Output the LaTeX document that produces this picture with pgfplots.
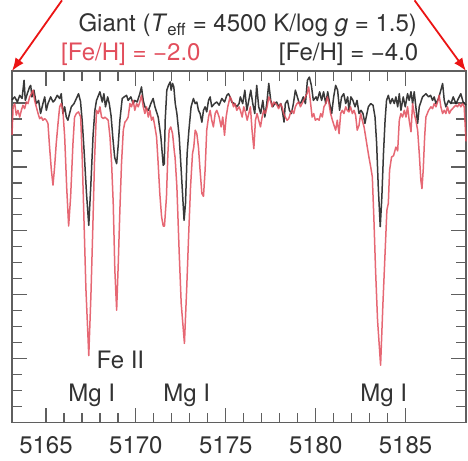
\documentclass[border=0pt]{standalone}
\usepackage{pgfplots}
\pgfplotsset{compat=1.18}
\usetikzlibrary{arrows.meta}
\usepackage{fontspec}
\setmainfont{TeX Gyre Heros}

\definecolor{redline}{RGB}{226,78,92}
\definecolor{blackline}{RGB}{35,35,35}
\definecolor{txt}{RGB}{50,50,50}
\definecolor{axgray}{RGB}{95,95,95}
\definecolor{arrowred}{RGB}{235,20,20}
\newcommand{\lbl}{\fontsize{24}{28}\selectfont}

\begin{document}
\begin{tikzpicture}
\begin{axis}[
  at={(0pt,0pt)}, anchor=south west,
  scale only axis, width=454pt, height=351.7pt,
  xmin=5163.11, xmax=5188.36, ymin=0, ymax=1.1,
  xtick={5165,5170,5175,5180,5185}, minor x tick num=4,
  ytick={0,0.2,0.4,0.6,0.8,1.0}, minor y tick num=3, yticklabels={},
  tick align=inside, xtick pos=both, ytick pos=both,
  major tick length=15pt, minor tick length=10pt,
  axis line style={axgray, line width=1.2pt},
  every tick/.style={axgray, line width=1.2pt},
  tick label style={font=\lbl, color=txt},
  xticklabel style={anchor=base, yshift=-30.6pt},
  /pgf/number format/assume math mode=true,
  /pgf/number format/set thousands separator={},
  clip=false,
]

% [Fe/H] = -4.0 (black)
\addplot[blackline, line width=1.5pt, line join=round, opacity=0.9] coordinates {
(5163.11,1.010) (5163.26,1.019) (5163.41,1.003) (5163.54,1.024) (5163.67,1.014)
(5163.78,1.071) (5163.85,1.008) (5163.96,1.029) (5164.09,1.050) (5164.15,1.055)
(5164.22,1.019) (5164.33,1.040) (5164.46,0.998) (5164.59,1.008) (5164.70,0.967)
(5164.83,0.998) (5164.93,1.019) (5165.02,0.977) (5165.11,0.998) (5165.26,1.019)
(5165.39,1.003) (5165.48,1.008) (5165.63,1.024) (5165.76,1.014) (5165.85,1.029)
(5165.94,0.967) (5166.04,0.988) (5166.13,0.956) (5166.22,0.946) (5166.31,0.967)
(5166.41,0.988) (5166.56,0.998) (5166.69,1.014) (5166.81,1.029) (5166.92,1.005)
(5167.02,0.940) (5167.12,0.850) (5167.25,0.720) (5167.38,0.617) (5167.50,0.750)
(5167.62,0.900) (5167.72,0.977) (5167.81,1.008) (5168.00,1.035) (5168.13,1.003)
(5168.22,1.029) (5168.31,0.988) (5168.43,1.019) (5168.52,0.998) (5168.62,0.960)
(5168.72,0.890) (5168.82,0.830) (5168.93,0.810) (5169.02,0.870) (5169.11,0.946)
(5169.24,1.014) (5169.35,1.019) (5169.48,1.024) (5169.57,1.008) (5169.72,1.019)
(5169.85,0.998) (5169.94,1.008) (5170.07,1.003) (5170.22,1.029) (5170.31,1.050)
(5170.41,1.008) (5170.50,0.988) (5170.59,0.982) (5170.70,0.977) (5170.83,0.998)
(5170.96,1.014) (5171.06,0.988) (5171.24,0.956) (5171.39,0.894) (5171.52,0.805)
(5171.58,0.810) (5171.63,0.946) (5171.72,1.040) (5171.81,1.055) (5171.91,1.066)
(5171.96,1.040) (5172.04,1.061) (5172.11,1.050) (5172.19,0.998) (5172.28,0.967)
(5172.41,0.894) (5172.52,0.790) (5172.68,0.633) (5172.76,0.686) (5172.85,0.842)
(5172.95,0.915) (5173.07,0.988) (5173.20,1.014) (5173.30,0.998) (5173.39,1.003)
(5173.48,0.977) (5173.57,0.967) (5173.67,0.940) (5173.76,0.977) (5173.85,0.988)
(5173.94,0.972) (5174.04,1.008) (5174.13,1.019) (5174.22,0.988) (5174.37,0.998)
(5174.50,1.003) (5174.63,0.993) (5174.78,1.014) (5174.93,1.003) (5175.06,1.024)
(5175.15,1.029) (5175.24,1.019) (5175.33,1.003) (5175.48,0.998) (5175.61,0.988)
(5175.74,0.998) (5175.81,1.019) (5175.94,0.998) (5176.06,1.040) (5176.17,0.977)
(5176.28,1.008) (5176.39,1.040) (5176.50,0.998) (5176.61,0.967) (5176.72,1.055)
(5176.83,0.988) (5176.94,0.967) (5177.06,1.008) (5177.17,0.956) (5177.28,0.998)
(5177.39,1.061) (5177.50,1.008) (5177.61,0.988) (5177.72,0.998) (5177.83,1.003)
(5177.94,0.988) (5178.06,0.998) (5178.17,0.967) (5178.24,0.940) (5178.31,0.998)
(5178.43,1.008) (5178.54,0.977) (5178.65,0.967) (5178.76,0.998) (5178.87,1.040)
(5178.98,1.019) (5179.09,0.998) (5179.20,1.003) (5179.31,1.019) (5179.43,0.998)
(5179.54,1.071) (5179.65,1.081) (5179.76,1.055) (5179.87,1.008) (5180.02,1.019)
(5180.09,1.008) (5180.22,1.035) (5180.33,1.008) (5180.44,1.035) (5180.56,0.998)
(5180.67,1.035) (5180.78,0.998) (5180.89,0.967) (5181.00,1.019) (5181.11,1.055)
(5181.22,1.040) (5181.33,0.977) (5181.44,1.019) (5181.56,1.029) (5181.67,0.998)
(5181.78,1.019) (5181.85,0.977) (5181.96,1.019) (5182.07,1.008) (5182.19,0.988)
(5182.30,1.008) (5182.41,0.967) (5182.52,0.977) (5182.63,0.967) (5182.74,0.936)
(5182.81,0.956) (5182.93,0.988) (5183.06,0.998) (5183.19,0.993) (5183.30,0.956)
(5183.39,0.873) (5183.48,0.738) (5183.59,0.613) (5183.68,0.706) (5183.77,0.842)
(5183.86,0.946) (5183.94,1.008) (5184.04,1.024) (5184.15,0.998) (5184.26,1.014)
(5184.37,0.998) (5184.46,1.019) (5184.56,0.988) (5184.65,1.029) (5184.74,0.977)
(5184.87,1.019) (5184.98,0.988) (5185.11,1.029) (5185.20,1.008) (5185.30,1.035)
(5185.39,0.998) (5185.48,1.035) (5185.57,0.988) (5185.67,0.936) (5185.76,0.988)
(5185.85,1.003) (5185.94,1.019) (5186.04,1.024) (5186.13,1.029) (5186.28,1.019)
(5186.39,1.024) (5186.50,1.008) (5186.59,1.019) (5186.69,0.998) (5186.83,1.014)
(5186.96,1.040) (5187.06,1.061) (5187.15,1.008) (5187.24,0.988) (5187.39,1.008)
(5187.52,0.998) (5187.65,1.019) (5187.80,0.998) (5187.94,1.014) (5188.07,1.029)
(5188.20,1.003) (5188.36,0.993)
};

% [Fe/H] = -2.0 (red)
\addplot[redline, line width=1.5pt, line join=round, opacity=0.85] coordinates {
(5163.11,0.900) (5163.17,0.988) (5163.26,0.998) (5163.35,0.962) (5163.44,0.977)
(5163.54,0.956) (5163.63,0.977) (5163.72,0.993) (5163.81,0.982) (5163.91,1.003)
(5164.00,0.998) (5164.09,1.019) (5164.19,1.029) (5164.28,1.040) (5164.37,1.008)
(5164.46,0.988) (5164.56,0.967) (5164.65,0.951) (5164.74,0.956) (5164.83,0.946)
(5164.93,0.951) (5165.02,0.946) (5165.11,0.936) (5165.20,0.862) (5165.30,0.790)
(5165.39,0.743) (5165.48,0.800) (5165.57,0.873) (5165.67,0.936) (5165.76,0.988)
(5165.85,0.998) (5165.94,0.977) (5166.04,0.894) (5166.15,0.738) (5166.26,0.615)
(5166.37,0.706) (5166.50,0.873) (5166.59,0.956) (5166.69,0.967) (5166.81,0.972)
(5166.93,0.956) (5167.02,0.820) (5167.12,0.620) (5167.22,0.420) (5167.38,0.210)
(5167.50,0.400) (5167.60,0.600) (5167.70,0.820) (5167.81,0.977) (5167.91,0.967)
(5168.00,0.988) (5168.09,0.956) (5168.19,0.951) (5168.28,0.956) (5168.37,0.951)
(5168.46,0.946) (5168.56,0.894) (5168.65,0.810) (5168.74,0.686) (5168.83,0.477)
(5168.93,0.352) (5169.02,0.498) (5169.11,0.665) (5169.20,0.810) (5169.30,0.915)
(5169.39,0.940) (5169.48,0.946) (5169.57,0.956) (5169.67,0.998) (5169.76,0.988)
(5169.85,1.008) (5169.94,0.977) (5170.04,0.998) (5170.13,0.988) (5170.22,1.003)
(5170.31,1.024) (5170.41,0.988) (5170.50,0.967) (5170.59,0.988) (5170.69,0.956)
(5170.78,0.977) (5170.87,0.946) (5170.96,0.956) (5171.06,0.925) (5171.15,0.894)
(5171.24,0.810) (5171.33,0.717) (5171.43,0.644) (5171.52,0.615) (5171.59,0.615)
(5171.70,0.706) (5171.78,0.842) (5171.85,0.915) (5171.94,0.925) (5172.04,0.904)
(5172.15,0.842) (5172.18,0.830) (5172.28,0.738) (5172.41,0.530) (5172.52,0.373)
(5172.70,0.248) (5172.83,0.425) (5172.93,0.580) (5173.04,0.738) (5173.15,0.842)
(5173.22,0.862) (5173.30,0.915) (5173.39,0.904) (5173.48,0.862) (5173.57,0.790)
(5173.67,0.717) (5173.76,0.708) (5173.85,0.790) (5173.94,0.915) (5174.04,0.956)
(5174.13,0.977) (5174.22,0.946) (5174.31,0.925) (5174.41,0.967) (5174.50,0.977)
(5174.63,0.956) (5174.74,0.925) (5174.83,0.956) (5174.93,0.899) (5175.02,0.956)
(5175.11,0.988) (5175.24,1.019) (5175.33,1.008) (5175.43,0.988) (5175.52,0.998)
(5175.61,0.977) (5175.74,0.988) (5175.81,0.977) (5175.91,0.956) (5176.00,0.988)
(5176.09,0.972) (5176.19,0.946) (5176.28,0.967) (5176.37,0.988) (5176.46,0.915)
(5176.56,0.857) (5176.65,0.946) (5176.74,0.967) (5176.83,0.946) (5176.93,0.925)
(5177.02,0.956) (5177.11,0.977) (5177.20,0.967) (5177.30,0.988) (5177.39,1.019)
(5177.48,1.008) (5177.57,0.988) (5177.67,1.003) (5177.76,0.998) (5177.85,0.993)
(5177.94,0.982) (5178.04,0.998) (5178.13,0.988) (5178.22,0.967) (5178.31,0.956)
(5178.41,0.946) (5178.50,0.951) (5178.59,0.967) (5178.69,0.977) (5178.78,0.967)
(5178.87,0.988) (5178.96,0.998) (5179.06,1.003) (5179.15,0.988) (5179.24,0.998)
(5179.33,1.008) (5179.43,1.019) (5179.52,1.029) (5179.61,1.050) (5179.70,1.008)
(5179.80,0.956) (5179.89,0.967) (5179.98,0.946) (5180.09,0.951) (5180.19,0.946)
(5180.28,0.967) (5180.37,0.956) (5180.46,0.988) (5180.56,0.998) (5180.65,1.019)
(5180.74,0.998) (5180.83,0.967) (5180.93,0.946) (5181.02,0.930) (5181.11,0.915)
(5181.20,0.946) (5181.30,0.904) (5181.39,0.967) (5181.48,0.977) (5181.57,0.967)
(5181.67,0.988) (5181.76,0.977) (5181.85,0.972) (5181.94,0.988) (5182.04,0.967)
(5182.13,0.977) (5182.22,0.962) (5182.31,0.915) (5182.41,0.930) (5182.50,0.967)
(5182.59,0.946) (5182.69,0.925) (5182.78,0.894) (5182.87,0.862) (5182.96,0.831)
(5183.06,0.800) (5183.15,0.769) (5183.24,0.633) (5183.33,0.477) (5183.44,0.321)
(5183.61,0.180) (5183.74,0.373) (5183.85,0.519) (5183.96,0.665) (5184.04,0.686)
(5184.11,0.790) (5184.22,0.831) (5184.33,0.835) (5184.46,0.862) (5184.56,0.850)
(5184.65,0.946) (5184.74,0.967) (5184.83,0.956) (5184.93,0.977) (5185.02,0.956)
(5185.11,0.988) (5185.20,0.946) (5185.30,0.910) (5185.39,0.998) (5185.48,0.967)
(5185.57,0.946) (5185.67,0.915) (5185.76,0.842) (5185.85,0.758) (5185.91,0.732)
(5185.98,0.790) (5186.06,0.894) (5186.13,0.956) (5186.28,0.977) (5186.41,0.988)
(5186.50,0.982) (5186.59,0.998) (5186.69,0.988) (5186.78,1.003) (5186.87,1.024)
(5186.96,0.988) (5187.06,0.967) (5187.15,0.977) (5187.24,0.967) (5187.33,0.988)
(5187.43,0.967) (5187.52,0.977) (5187.61,0.982) (5187.70,0.988) (5187.80,0.993)
(5187.89,0.988) (5187.98,0.998) (5188.07,0.988) (5188.17,0.998) (5188.26,0.988)
(5188.36,0.880)
};

% line identifications
\node[anchor=base, font=\lbl, text=txt] at (axis cs:5169.14,0.170) {Fe II};
\node[anchor=base, font=\lbl, text=txt] at (axis cs:5167.54,0.066) {Mg I};
\node[anchor=base, font=\lbl, text=txt] at (axis cs:5172.83,0.066) {Mg I};
\node[anchor=base, font=\lbl, text=txt] at (axis cs:5183.78,0.066) {Mg I};

% headings
\node[anchor=base, font=\lbl, text=txt] at (axis cs:5176.22,1.222)
  {Giant (\textit{T}\textsubscript{eff} = 4500 K/log \textit{g} = 1.5)};
\node[anchor=base, font=\lbl, text=redline] at (axis cs:5169.72,1.133) {[Fe/H] = −2.0};
\node[anchor=base, font=\lbl, text=txt] at (axis cs:5181.83,1.133) {[Fe/H] = −4.0};

% zoom arrows
\draw[arrowred, line width=1.8pt, -{Latex[length=13pt,width=10pt]}]
  (axis cs:5165.89,1.321) -- (axis cs:5163.11,1.1);
\draw[arrowred, line width=1.8pt, -{Latex[length=13pt,width=10pt]}]
  (axis cs:5185.50,1.321) -- (axis cs:5188.36,1.1);
\end{axis}
\pgfresetboundingbox
\useasboundingbox (-12pt,-37.3pt) rectangle (456pt,422.7pt);
\end{tikzpicture}
\end{document}
